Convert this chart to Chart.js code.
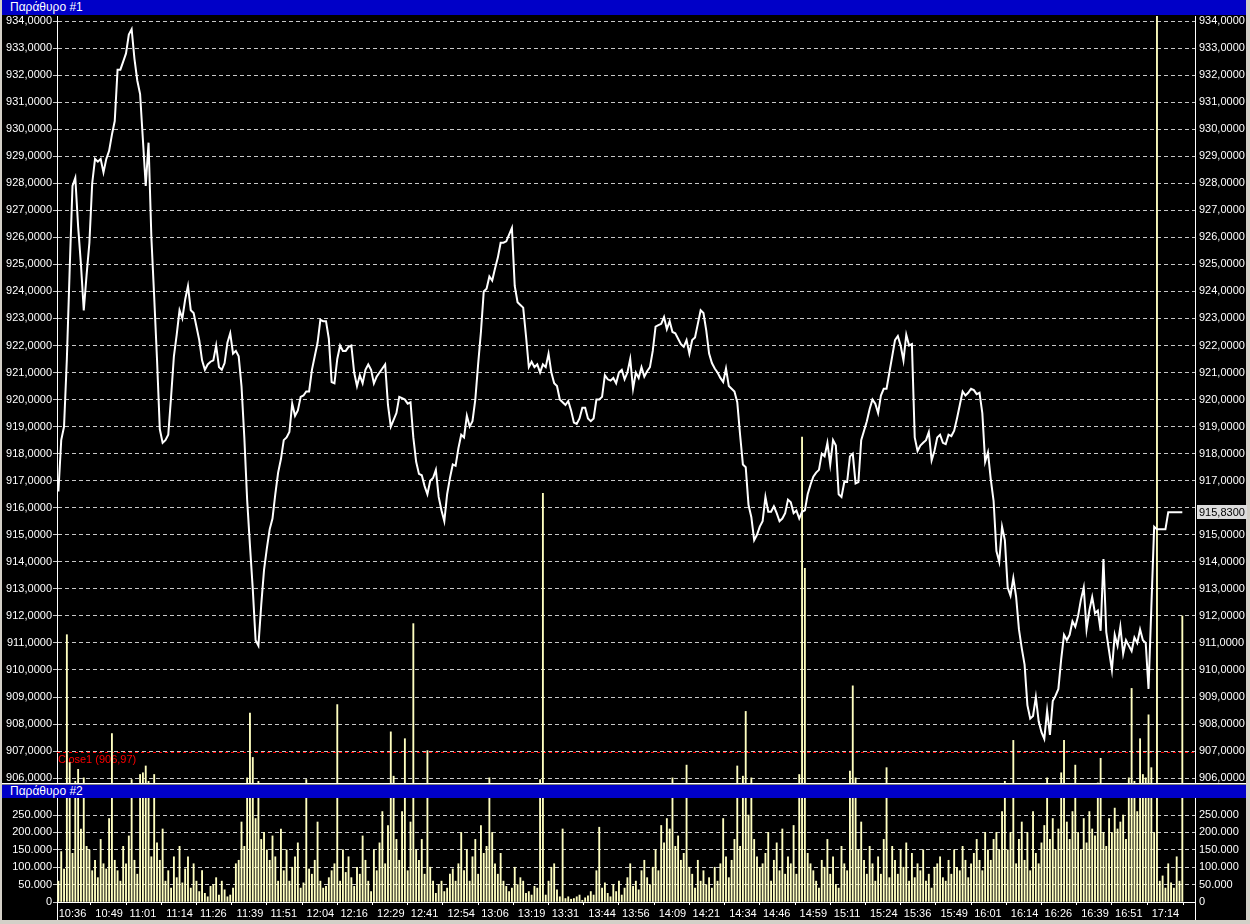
<!DOCTYPE html>
<html><head><meta charset="utf-8">
<script src="https://cdn.jsdelivr.net/npm/chart.js@4.4.1/dist/chart.umd.min.js"></script>
<style>
html,body{margin:0;padding:0;background:#d4d0c8;width:1250px;height:924px;overflow:hidden;font-family:"Liberation Sans",Arial,sans-serif}
#frame{position:absolute;left:2px;top:0;width:1244px;height:920px;background:#000}
.title{position:absolute;left:2px;width:1244px;background:#0000c8;color:#fff;font-size:12px;box-sizing:border-box;padding-left:8px;z-index:5;white-space:nowrap}
#t1{top:0;height:15px;line-height:15px}
#t2{top:785px;height:13px;line-height:13px}
#sep1{position:absolute;left:2px;top:783px;width:1244px;height:1px;background:#fff;z-index:4}
#sep2{position:absolute;left:2px;top:784px;width:1244px;height:1px;background:#808080;z-index:4}
canvas{position:absolute;left:0}
#c1{top:0}
#c2{top:785px}
</style></head>
<body>
<div id="frame"></div>
<canvas id="c1" width="1250" height="784"></canvas>
<canvas id="c2" width="1250" height="137"></canvas>
<div id="sep1"></div><div id="sep2"></div>
<div class="title" id="t1">Παράθυρο #1</div>
<div class="title" id="t2">Παράθυρο #2</div>
<script>
// ---------- DATA ----------
// trading sessions (minute bars); closing auction gap 17:00-17:09
const sessions = [['10:31', '16:59'], ['17:10', '17:24']];
const tickLabels = ['10:36','10:49','11:01','11:14','11:26','11:39','11:51','12:04','12:16','12:29','12:41','12:54','13:06','13:19','13:31','13:44','13:56','14:09','14:21','14:34','14:46','14:59','15:11','15:24','15:36','15:49','16:01','16:14','16:26','16:39','16:51','17:14'];
const volTickValues = [0, 50, 100, 150, 200, 250];   // thousands

const price = [
916.6,918.5,919.0,921.5,924.8,927.9,928.2,926.4,925.0,923.3,
924.6,925.8,928.0,928.9,928.8,928.9,928.4,928.9,929.2,929.8,
930.3,932.2,932.2,932.5,932.8,933.5,933.7,932.6,931.8,931.3,
929.6,927.9,929.5,926.0,923.8,921.5,918.9,918.4,918.5,918.7,
920.1,921.6,922.4,923.3,923.0,923.7,924.2,923.3,923.2,922.7,
922.2,921.45,921.1,921.3,921.4,921.45,922.0,921.2,921.1,921.35,
922.1,922.45,921.7,921.8,921.6,920.5,918.6,916.3,914.6,913.0,
911.1,910.9,912.4,913.7,914.5,915.2,915.6,916.5,917.3,917.8,
918.5,918.6,918.8,919.85,919.4,919.6,920.1,920.15,920.3,920.3,
921.1,921.6,922.1,922.95,922.9,922.9,922.25,920.65,920.6,921.5,
922.0,921.8,921.8,921.95,922.0,921.0,920.5,920.9,920.6,921.1,
921.3,921.1,920.6,920.85,921.0,921.15,921.3,919.8,919.0,919.25,
919.5,920.1,920.05,920.0,919.85,919.9,918.6,917.7,917.25,917.2,
916.8,916.5,917.0,917.1,917.4,916.4,915.9,915.5,916.5,917.1,
917.6,917.55,918.2,918.7,918.6,919.4,919.0,919.2,920.0,921.3,
922.5,924.0,924.1,924.55,924.4,924.85,925.25,925.8,925.8,925.85,
926.1,926.35,924.2,923.6,923.5,923.4,922.35,921.2,921.4,921.2,
921.3,921.0,921.3,921.2,921.7,921.0,920.6,920.5,920.0,919.9,
919.8,919.95,919.6,919.15,919.1,919.3,919.7,919.7,919.3,919.2,
919.3,920.0,920.0,920.1,920.9,920.75,920.7,920.8,920.6,921.0,
921.1,920.75,921.0,921.5,920.4,921.0,920.8,921.2,920.85,921.05,
921.2,921.8,922.7,922.75,922.8,923.05,922.6,922.9,922.5,922.45,
922.25,922.05,921.95,922.2,921.7,922.2,922.3,922.8,923.3,923.2,
922.55,921.7,921.35,921.15,921.0,920.8,920.65,921.15,920.5,920.4,
920.3,919.9,918.7,917.6,917.5,916.1,915.65,914.8,915.0,915.3,
915.5,916.4,915.85,915.85,916.05,915.8,915.5,915.6,915.8,916.3,
916.2,915.8,915.9,915.6,915.85,915.9,916.5,916.85,917.15,917.3,
917.4,918.0,917.9,918.4,917.6,918.5,918.3,916.5,916.4,916.95,
916.95,917.9,918.0,916.9,916.95,918.5,918.85,919.2,919.65,920.0,
919.85,919.5,920.15,920.4,920.4,921.0,921.6,922.2,922.35,922.0,
921.45,922.4,922.0,922.05,918.6,918.1,918.3,918.4,918.5,918.8,
917.75,918.1,918.6,918.7,918.4,918.35,918.7,918.65,918.85,919.3,
919.8,920.3,920.15,920.25,920.4,920.35,920.2,920.25,919.5,917.7,
918.05,917.05,916.25,914.4,914.0,915.3,914.8,913.05,912.75,913.4,
912.7,911.5,910.8,910.2,908.7,908.2,908.3,909.0,908.1,907.7,
907.45,908.5,907.6,908.85,909.05,909.3,910.4,911.3,911.1,911.3,
911.8,911.6,912.0,912.6,913.05,911.5,912.2,912.7,912.1,912.2,
911.45,914.1,911.4,910.7,910.0,911.3,910.9,911.6,910.6,911.1,
910.9,910.7,911.2,911.0,911.5,911.1,911.0,909.3,912.3,915.3,
915.2,915.2,915.2,915.2,915.83,915.83,915.83,915.83,915.83,915.83
];

// volume in thousands of shares
const volumeK = [
60,145,95,1170,420,140,310,380,210,330,
160,150,90,120,70,180,110,95,240,590,
120,90,60,160,110,190,320,120,80,350,
360,400,310,130,350,170,120,210,60,90,
40,130,70,160,55,95,130,40,110,60,
30,90,25,15,45,50,70,20,60,35,
15,20,40,110,120,230,160,330,710,450,
240,310,180,200,150,120,190,130,60,210,
90,150,60,100,130,170,40,55,320,95,
80,120,230,60,40,45,70,90,110,760,
60,150,85,130,70,45,100,80,190,120,
60,30,150,90,170,260,110,220,600,340,
180,120,260,560,90,230,1235,150,120,180,
80,490,100,60,25,50,60,30,40,80,
95,60,110,200,90,150,60,130,180,80,
220,140,160,330,200,110,80,140,60,45,
30,40,100,50,70,60,25,30,20,45,
40,320,2000,20,60,100,110,35,15,210,
10,15,8,10,15,20,5,12,18,30,
20,90,215,40,55,25,15,50,30,60,
20,40,70,110,45,60,35,90,120,70,
50,100,150,90,220,170,240,210,330,160,
190,120,140,405,100,80,40,120,60,90,
50,70,40,100,60,110,240,130,70,120,
180,400,160,340,720,250,330,180,130,100,
110,140,200,60,120,170,90,210,80,130,
110,220,80,350,2330,1560,140,110,90,60,
40,120,100,180,80,130,50,40,160,110,
90,370,870,330,150,230,120,80,160,110,
60,130,80,180,390,70,160,120,80,150,
100,170,60,140,70,110,90,150,60,80,
40,100,110,130,70,60,120,80,150,100,
90,160,120,70,110,140,180,120,90,200,
150,120,180,200,150,260,310,150,200,550,
110,180,230,120,200,90,260,140,110,170,
220,330,180,240,150,210,360,550,230,180,
260,405,200,150,240,170,260,210,190,300,
445,200,160,240,200,270,210,230,250,180,
330,855,310,260,560,350,330,700,390,200,
4800,60,75,40,110,55,40,130,60,1280
];

const closeRef = 906.97;          // Close1 reference level
const priceAxisMin = 905.82, priceAxisMax = 934.185;
const volAxisMax = 299;           // lower window (thousands)
const overlayVolMin = 300;        // volume overlay baseline in upper window

// ---------- BUILD ----------
const categories = [];
for (const [a, b] of sessions) {
  let [h, m] = a.split(':').map(Number);
  const [eh, em] = b.split(':').map(Number);
  while (h * 60 + m <= eh * 60 + em) {
    categories.push(String(h).padStart(2, '0') + ':' + String(m).padStart(2, '0'));
    m++; if (m === 60) { m = 0; h++; }
  }
}
const tickSet = new Set(tickLabels);
const lastPrice = price[price.length - 1];

const FONT = '"Liberation Sans", Arial, sans-serif';
const GRID = '#c8c8c8';
const BAR = '#ffffc0';
const BAR_W = 1.2;
const fmtPrice = v => v.toFixed(4).replace('.', ',');
const fmtVol = v => v === 0 ? '0' : v + '.000';
const yFit = w => s => { s.width = w; s.paddingTop = 0; s.paddingBottom = 0; };
const volTicks = s => { s.ticks = volTickValues.map(v => ({ value: v })); };

const closePlugin = {
  id: 'closeLine',
  beforeDatasetsDraw(chart) {
    const { ctx, chartArea: a, scales: { y } } = chart;
    const py = Math.round(y.getPixelForValue(closeRef)) + 0.5;
    ctx.save();
    ctx.strokeStyle = '#ff0000'; ctx.lineWidth = 1; ctx.setLineDash([3, 3]);
    ctx.beginPath(); ctx.moveTo(a.left, py); ctx.lineTo(a.right, py); ctx.stroke();
    ctx.setLineDash([]);
    ctx.fillStyle = '#ff0000'; ctx.font = '11px ' + FONT; ctx.textBaseline = 'top';
    ctx.fillText('Close1 (' + closeRef.toFixed(2).replace('.', ',') + ')', a.left + 1, py + 2);
    ctx.restore();
  }
};
const lastPricePlugin = {
  id: 'lastPrice',
  afterDraw(chart) {
    const { ctx, chartArea: a, scales: { y2 } } = chart;
    const py = Math.round(y2.getPixelForValue(lastPrice));
    ctx.save();
    ctx.fillStyle = '#dcdcdc';
    ctx.fillRect(a.right + 2, py - 7, 50, 14);
    ctx.fillStyle = '#000'; ctx.font = '11px ' + FONT; ctx.textBaseline = 'middle';
    ctx.fillText(fmtPrice(lastPrice), a.right + 4, py + 0.5);
    ctx.restore();
  }
};
const frameLines = {
  id: 'frameLines',
  afterDraw(chart) {
    const { ctx, chartArea: a, height } = chart;
    ctx.save(); ctx.strokeStyle = '#ffffff'; ctx.lineWidth = 1;
    ctx.beginPath();
    ctx.moveTo(Math.round(a.left) + 0.5, a.bottom); ctx.lineTo(Math.round(a.left) + 0.5, height - 2);
    ctx.moveTo(Math.round(a.right) + 0.5, a.bottom); ctx.lineTo(Math.round(a.right) + 0.5, height - 2);
    ctx.stroke(); ctx.restore();
  }
};

const yTicks = { color: '#ffffff', font: { family: FONT, size: 11 } };

new Chart(document.getElementById('c1'), {
  type: 'bar',
  data: {
    labels: categories,
    datasets: [
      { type: 'line', data: price, yAxisID: 'y', borderColor: '#ffffff', borderWidth: 2, pointRadius: 0, tension: 0, order: 0 },
      { type: 'bar', data: volumeK, yAxisID: 'yv', backgroundColor: BAR, barThickness: BAR_W, order: 1, clip: 0 }
    ]
  },
  options: {
    responsive: false, animation: false, events: [],
    layout: { padding: { top: 16, bottom: 1, left: 0, right: 0 } },
    plugins: { legend: { display: false }, tooltip: { enabled: false } },
    scales: {
      x: { type: 'category', display: false, offset: true },
      y: {
        position: 'left', min: priceAxisMin, max: priceAxisMax, afterFit: yFit(57),
        ticks: { ...yTicks, stepSize: 1, includeBounds: false, padding: 1, callback: fmtPrice },
        grid: { color: GRID, tickLength: 4, tickColor: GRID, tickBorderDash: [4, 3] },
        border: { display: true, color: '#ffffff', dash: [4, 3] }
      },
      y2: {
        position: 'right', min: priceAxisMin, max: priceAxisMax, afterFit: yFit(55),
        ticks: { ...yTicks, stepSize: 1, includeBounds: false, padding: 4,
          callback: v => Math.abs(v - lastPrice) < 0.5 ? '' : fmtPrice(v) },
        grid: { drawOnChartArea: false, drawTicks: false },
        border: { display: true, color: '#ffffff' }
      },
      yv: { display: false, min: overlayVolMin, max: Math.max(...volumeK) }
    }
  },
  plugins: [closePlugin, lastPricePlugin]
});

new Chart(document.getElementById('c2'), {
  type: 'bar',
  data: {
    labels: categories,
    datasets: [{ data: volumeK, backgroundColor: BAR, barThickness: BAR_W, clip: 0 }]
  },
  options: {
    responsive: false, animation: false, events: [],
    layout: { padding: { top: 13, bottom: 0, left: 0, right: 0 } },
    plugins: { legend: { display: false }, tooltip: { enabled: false } },
    scales: {
      x: {
        type: 'category', offset: true,
        afterFit: s => { s.height = 20; s.paddingLeft = 0; s.paddingRight = 0; },
        afterBuildTicks: s => { s.ticks = s.ticks.filter(t => tickSet.has(categories[t.value])); },
        ticks: { autoSkip: false, maxRotation: 0, color: '#ffffff', font: { family: FONT, size: 11 }, padding: 2 },
        grid: { drawOnChartArea: false, drawTicks: true, tickLength: 3, tickColor: '#ffffff' },
        border: { display: true, color: '#ffffff' }
      },
      y: {
        position: 'left', min: 0, max: volAxisMax, afterFit: yFit(57), afterBuildTicks: volTicks,
        ticks: { ...yTicks, padding: 1, callback: fmtVol },
        grid: { color: GRID, tickLength: 4, tickColor: GRID, tickBorderDash: [4, 3] },
        border: { display: true, color: '#ffffff', dash: [4, 3] }
      },
      y2: {
        position: 'right', min: 0, max: volAxisMax, afterFit: yFit(55), afterBuildTicks: volTicks,
        ticks: { ...yTicks, padding: 4, callback: fmtVol },
        grid: { drawOnChartArea: false, drawTicks: false },
        border: { display: true, color: '#ffffff' }
      }
    }
  },
  plugins: [frameLines]
});
</script>
</body></html>
